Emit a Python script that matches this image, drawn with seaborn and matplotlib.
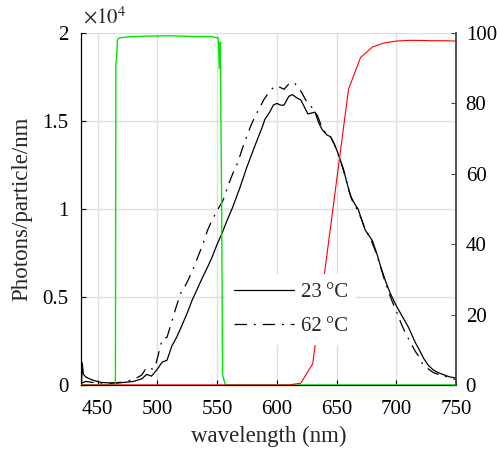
"""Emission spectra at two temperatures with filter transmission curves."""

import matplotlib
matplotlib.use("Agg")
import matplotlib.pyplot as plt
from matplotlib.ticker import FuncFormatter
import seaborn as sns

# photon spectra (x1e4 photons/particle/nm)
wl_23 = [436.5, 437, 438, 440, 443, 447, 452, 458, 465, 473, 480, 487, 491, 495,
         500, 504, 508, 512, 516, 520, 525, 529, 533, 537, 542, 546, 550, 554,
         558, 563, 569, 575, 580, 584, 588, 590, 594, 597, 600, 603, 606, 610,
         613, 617, 620, 623, 626, 629, 632, 635, 638, 642, 645, 648, 651, 654,
         656, 659, 662, 665, 668, 671, 674, 677, 680, 684, 687, 691, 695, 700,
         705, 710, 716, 720, 723, 727, 731, 735, 740, 745, 750]
ph_23 = [0.02, 0.125, 0.06, 0.045, 0.035, 0.025, 0.015, 0.012, 0.01, 0.015,
         0.02, 0.035, 0.06, 0.05, 0.09, 0.13, 0.14, 0.22, 0.27, 0.33, 0.41, 0.48,
         0.54, 0.60, 0.67, 0.73, 0.80, 0.86, 0.93, 1.01, 1.12, 1.24, 1.33, 1.40,
         1.47, 1.51, 1.55, 1.59, 1.60, 1.59, 1.59, 1.64, 1.65, 1.63, 1.62, 1.58,
         1.54, 1.545, 1.55, 1.49, 1.45, 1.42, 1.41, 1.37, 1.32, 1.26, 1.22, 1.14,
         1.07, 1.03, 1.00, 0.94, 0.88, 0.85, 0.82, 0.74, 0.67, 0.59, 0.52, 0.45,
         0.39, 0.33, 0.24, 0.19, 0.15, 0.11, 0.085, 0.07, 0.057, 0.045, 0.04]

wl_62 = [436.5, 440, 445, 450, 460, 470, 480, 487, 490, 492, 496, 498, 501,
         504, 508, 512, 516, 520, 523, 526, 530, 534, 538, 542, 546, 550, 555,
         559, 563, 567, 572, 578, 582, 586, 589, 593, 597, 600, 603, 606, 610,
         614, 617, 621, 624, 627, 630, 634, 638, 642, 645, 648, 651, 654, 657,
         660, 663, 667, 671, 674, 678, 682, 686, 690, 694, 698, 700, 704, 708,
         712, 716, 719, 722, 725, 731, 737, 743, 750]
ph_62 = [0.01, 0.02, 0.015, 0.01, 0.01, 0.015, 0.03, 0.057, 0.09, 0.10, 0.09,
         0.10, 0.18, 0.26, 0.27, 0.36, 0.45, 0.53, 0.56, 0.60, 0.66, 0.73, 0.80,
         0.88, 0.94, 0.99, 1.05, 1.13, 1.20, 1.26, 1.36, 1.47, 1.53, 1.58, 1.62,
         1.66, 1.69, 1.70, 1.69, 1.68, 1.71, 1.72, 1.70, 1.66, 1.62, 1.60, 1.57,
         1.53, 1.46, 1.42, 1.41, 1.37, 1.32, 1.26, 1.19, 1.11, 1.05, 1.00, 0.94,
         0.88, 0.84, 0.77, 0.69, 0.60, 0.52, 0.45, 0.42, 0.35, 0.29, 0.24, 0.19,
         0.16, 0.12, 0.10, 0.07, 0.055, 0.045, 0.03]

# filter transmission (%)
wl_green = [436, 464, 464.8, 465.2, 466, 466.5, 468, 475, 490, 510, 530, 545,
            551, 551.8, 552.6, 553.8, 554.5, 556, 557, 750]
tr_green = [0, 0, 0.5, 91, 94, 98, 98.6, 98.9, 99.1, 99.2, 99.0, 99.0,
            98.6, 90, 97.4, 50, 3, 1, 0, 0]

wl_red = [436, 610, 620, 630, 640, 650, 660, 670, 680, 690, 700, 710, 720,
          730, 740, 750]
tr_red = [0, 0, 0.5, 6, 32, 58, 84, 93, 96, 97.2, 97.7, 97.9, 97.9, 97.8,
          97.8, 97.7]

x_ticks = [450, 500, 550, 600, 650, 700, 750]
y_ticks = [0, 0.5, 1, 1.5, 2]
y2_ticks = [0, 20, 40, 60, 80, 100]
legend_labels = ["23\u2009°C", "62\u2009°C"]

sns.set_theme(style="white")
plt.rcParams["font.family"] = ["Liberation Serif", "DejaVu Serif"]
plt.rcParams["mathtext.fontset"] = "stix"

fig = plt.figure(figsize=(4.97, 4.55), dpi=100)
ax = fig.add_axes([0.163, 0.154, 0.7545, 0.7735])
ax2 = ax.twinx()

sns.lineplot(x=wl_23, y=ph_23, ax=ax, color="black", lw=0.9, legend=False)
sns.lineplot(x=wl_62, y=ph_62, ax=ax, color="black", lw=0.9,
             linestyle=(0, (10, 5.5, 1.5, 5.5)), legend=False)
sns.lineplot(x=wl_green, y=tr_green, ax=ax2, color="#00e600", lw=1.0, legend=False)
sns.lineplot(x=wl_red, y=tr_red, ax=ax2, color="#ff0000", lw=0.8, legend=False)

ax.set_xlim(436, 750)
ax.set_ylim(0, 2)
ax2.set_ylim(0, 100)
ax.set_xticks(x_ticks)
ax.set_yticks(y_ticks)
ax2.set_yticks(y2_ticks)
ax.yaxis.set_major_formatter(FuncFormatter(lambda v, _: f"{v:g}"))

ax.grid(True, color="#dedede", lw=1.0)
ax.set_axisbelow(True)

for side in ["top", "right"]:
    ax.spines[side].set_visible(False)
for side in ["top", "left", "bottom"]:
    ax2.spines[side].set_visible(False)
ax.spines["left"].set_color("black")
ax.spines["left"].set_linewidth(0.9)
ax.spines["bottom"].set_color("black")
ax.spines["bottom"].set_linewidth(0.9)
ax2.spines["right"].set_color("#444444")
ax2.spines["right"].set_linewidth(1.3)

ax.tick_params(axis="both", direction="in", length=3.5, width=0.8,
               labelsize=15, colors="black", left=True, bottom=True)
ax.tick_params(axis="x", pad=11)
ax.tick_params(axis="y", pad=9)
ax2.tick_params(axis="y", direction="in", length=3.5, width=0.8,
                labelsize=15, color="#444444", labelcolor="black", pad=7)

ax.set_xlabel("wavelength (nm)", fontsize=16.5, labelpad=5)
ax.set_ylabel("Photons/particle/nm", fontsize=16.5, labelpad=7)
ax.text(0.005, 1.012, "$\\times10^{4}$", transform=ax.transAxes,
        fontsize=15, ha="left", va="bottom")

leg = ax2.legend(handles=ax.lines[:2], labels=legend_labels,
                 loc="lower left", bbox_to_anchor=(0.358, 0.085),
                 fontsize=15, frameon=True, facecolor="white",
                 edgecolor="none", framealpha=1, fancybox=False,
                 handlelength=2.9, handletextpad=0.3, labelspacing=0.7,
                 borderpad=0.4)

fig.savefig("out.png", dpi=100)
plt.close(fig)
